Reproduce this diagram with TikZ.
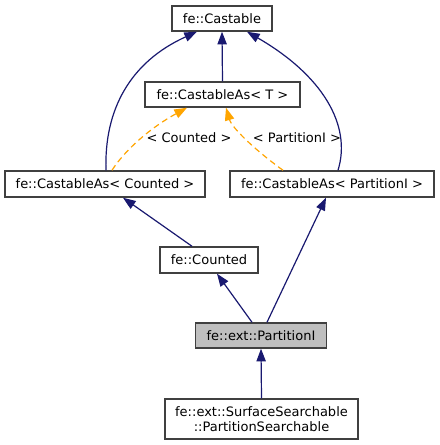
\documentclass[tikz,border=0pt]{standalone}
\usepackage{fontspec}
\setmainfont{DejaVu Sans}
\usetikzlibrary{arrows.meta,calc}
\definecolor{edgeblue}{HTML}{191970}
\definecolor{edgeorange}{HTML}{FFA500}
\definecolor{boxborder}{HTML}{404040}
\definecolor{boxgray}{HTML}{BFBFBF}
\begin{document}
\begin{tikzpicture}[x=0.75pt,y=-0.75pt,
  cls/.style={draw=boxborder,line width=1.1pt,fill=white,inner sep=0pt,
    font=\fontsize{9.75}{11.5}\selectfont,align=center,minimum height=25*0.75pt},
  inh/.style={draw=edgeblue,line width=0.9pt,-{Triangle[length=9.5pt,width=7pt]},fill=none},
  tmpl/.style={draw=edgeorange,line width=0.9pt,dashed,dash pattern=on 4.5pt off 3pt,
    -{Triangle[length=9.5pt,width=7pt,fill=edgeorange]}},
  lbl/.style={font=\fontsize{9.75}{11.5}\selectfont,inner sep=0pt}]
\useasboundingbox (0,0) rectangle (439,445);
\fill[white] (0,0) rectangle (439,445);
% nodes
\node[cls,minimum width=100*0.75pt] (cast) at (222,18.5) {fe::Castable};
\node[cls,minimum width=155*0.75pt] (castT) at (222.5,94.5) {fe::CastableAs< T >};
\node[cls,minimum width=200*0.75pt,minimum height=26*0.75pt] (castC) at (105,184) {fe::CastableAs< Counted >};
\node[cls,minimum width=204*0.75pt,minimum height=26*0.75pt] (castP) at (332,184) {fe::CastableAs< PartitionI >};
\node[cls,minimum width=98*0.75pt,minimum height=26*0.75pt] (counted) at (209,260) {fe::Counted};
\node[cls,minimum width=131*0.75pt,fill=boxgray] (part) at (261,335.5) {fe::ext::PartitionI};
\node[cls,minimum width=193*0.75pt,minimum height=40*0.75pt] (surf) at (261.5,419) {fe::ext::SurfaceSearchable\\::PartitionSearchable};
% navy inheritance edges
\draw[inh] (castT.north) -- (cast.south);
\draw[inh] ($(castC.north)+(1,0)$) .. controls (104,110) and (130,62) .. ($(cast.south)+(-25,0)$);
\draw[inh] ($(castP.north)+(6,0)$) .. controls (352,125) and (322,75) .. ($(cast.south)+(25,0)$);
\draw[inh] ($(counted.north)+(-17,0)$) -- ($(castC.south)+(18,0)$);
\draw[inh] ($(part.north)+(6,0)$) -- ($(castP.south)+(-6,0)$);
\draw[inh] ($(part.north)+(-9,0)$) -- ($(counted.south)+(8,0)$);
\draw[inh] (surf.north) -- (part.south);
% orange template edges
\draw[tmpl] ($(castC.north)+(7,0)$) .. controls (125,150) and (150,128) .. ($(castT.south)+(-35.5,0)$);
\draw[tmpl] ($(castP.north)+(-49,0)$) .. controls (255,150) and (232,128) .. ($(castT.south)+(3.5,0)$);
% labels
\node[lbl] (lc) at (189,138) {< Counted >};
\node[lbl] (lp) at (297,138) {< PartitionI >};
\end{tikzpicture}
\end{document}
